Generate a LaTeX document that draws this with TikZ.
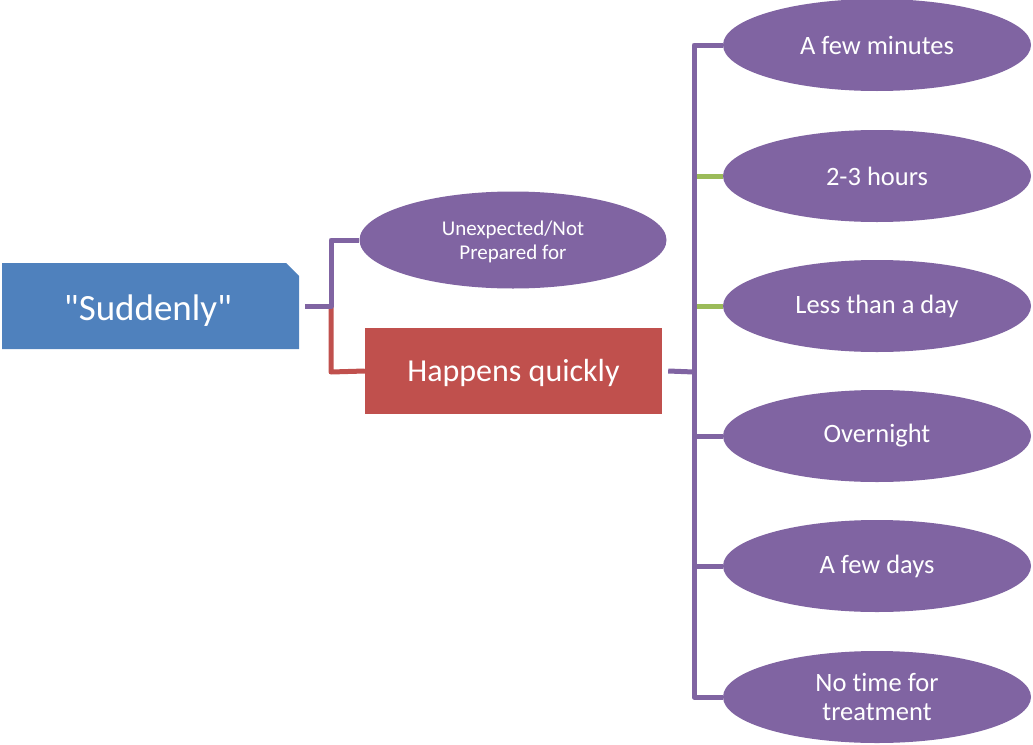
\documentclass[tikz,border=0pt]{standalone}
\usepackage{fontspec}
\setmainfont{Carlito}[Ligatures={TeXOff,NoCommon}]
\usetikzlibrary{shapes.geometric}
\definecolor{cblue}{HTML}{4F81BD}
\definecolor{cred}{HTML}{C0504D}
\definecolor{cpurple}{HTML}{8064A2}
\definecolor{cgreen}{HTML}{9BBB59}
% push centred text down by half of #1
\newcommand{\dropby}[2]{\raisebox{0pt}[\dimexpr\height+#1\relax][\depth]{#2}}
\begin{document}
\begin{tikzpicture}[x=1pt,y=-1pt,
  leaf/.style={ellipse,fill=cpurple,text=white,minimum width=308pt,minimum height=92pt,inner sep=0pt,align=center,font=\fontsize{26.5}{29}\selectfont},
  link/.style={line width=5pt,draw=cpurple,line join=round},
  glink/.style={line width=5pt,draw=cgreen},
  rlink/.style={line width=5pt,draw=cred,line join=round}]
\useasboundingbox (0,0) rectangle (1033,744);
% root box with clipped top-right corner
\fill[cblue] (2,263) -- (286,263) -- (299,276) -- (299,349) -- (2,349) -- cycle;
\node[text=white,font=\fontsize{37}{40}\selectfont] (root) at (148,311) {"Suddenly"};
\coordinate (rootR) at (305,306);
% first level
\node[ellipse,fill=cpurple,text=white,minimum width=307pt,minimum height=97pt,inner sep=0pt,font=\fontsize{21}{24}\selectfont] (unexp) at (513,240) {\dropby{6pt}{\begin{tabular}{@{}c@{}}Unexpected/Not\\Prepared for\end{tabular}}};
\node[fill=cred,text=white,minimum width=297pt,minimum height=86pt,inner sep=0pt,font=\fontsize{32}{36}\selectfont] (quick) at (513.5,371) {\dropby{4pt}{Happens quickly}};
\coordinate (j1) at (331,306);
\draw[rlink] (j1) -- (331,372) -- (quick.west);
\draw[link] (rootR) -- (j1) -- (331,240) -- (unexp.west);
% second level
\node[leaf] (l1) at (877,45) {A few minutes};
\node[leaf] (l2) at (877,176) {2-3 hours};
\node[leaf] (l3) at (877,306) {Less than a day};
\node[leaf] (l4) at (877,436) {Overnight};
\node[leaf] (l5) at (877,566) {A few days};
\node[leaf] (l6) at (877,697) {No t\kern0pt ime for\\treatment};
\coordinate (j2) at (694,372);
\draw[glink] (694,176) -- (l2.west);
\draw[glink] (694,306) -- (l3.west);
\draw[link] (quick.east) ++(6,0) -- (j2);
\draw[link] (l1.west) -- (694,45) -- (694,697) -- (l6.west);
\draw[link] (694,436) -- (l4.west);
\draw[link] (694,566) -- (l5.west);
\end{tikzpicture}
\end{document}
